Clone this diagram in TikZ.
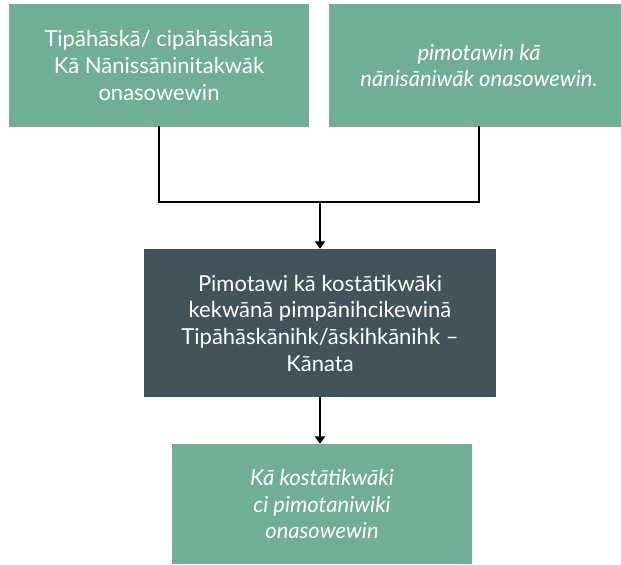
\documentclass[tikz,border=0pt]{standalone}
\usepackage{fontspec}
\setmainfont{Lato}
\usetikzlibrary{positioning,arrows.meta}

\definecolor{boxgreen}{HTML}{70AE95}
\definecolor{boxslate}{HTML}{43535C}

\tikzset{
	box/.style={fill=boxgreen, text=white, align=center, inner sep=0pt,
		font=\fontsize{16.5}{20}\selectfont},
	darkbox/.style={box, fill=boxslate},
	link/.style={line width=1.5pt, line cap=rect},
	arr/.style={link, -{Triangle[width=7.5pt,length=5.5pt]}, line cap=butt}
}

\begin{document}
\begin{tikzpicture}[x=0.75pt,y=-0.75pt]
	\useasboundingbox (0,0) rectangle (621,564);
	\clip (0,0) rectangle (621,564);

	% boxes, sizes in pt (1px = .75pt)
	\node[box, minimum width=225pt, minimum height=92.25pt] (src) at (159,65.5)
		{Tipāhāskā/ cipāhāskānā\\Kā Nānissāninitakwāk\\onasowewin};
	\node[box, minimum width=225pt, minimum height=92.25pt, font=\fontsize{16.5}{20}\selectfont\itshape]
		(pub) at (479,65.5) {pimotawin kā\\nānisāniwāk onasowewin.};

	\node[darkbox, minimum width=264pt, minimum height=111pt] (tbl) at (320,323)
		{Pimotawi kā kostātikwāki\\kekwānā pimpānihcikewinā\\Tipāhāskānihk/āskihkānihk –\\Kānata};

	\node[box, minimum width=225pt, minimum height=90pt, font=\fontsize{16.5}{20}\selectfont\itshape]
		(out) at (322,504) {Kā kostātikwāki\\ci pimotaniwiki\\onasowewin};

	\coordinate (join) at (320,202);

	\draw[link] (src.south) |- (join);
	\draw[link] (pub.south) |- (join);
	\draw[arr] (join) -- (tbl.north);
	\draw[arr] (tbl.south) ++(0,0) coordinate (tb) -- (tb |- out.north);
\end{tikzpicture}
\end{document}
